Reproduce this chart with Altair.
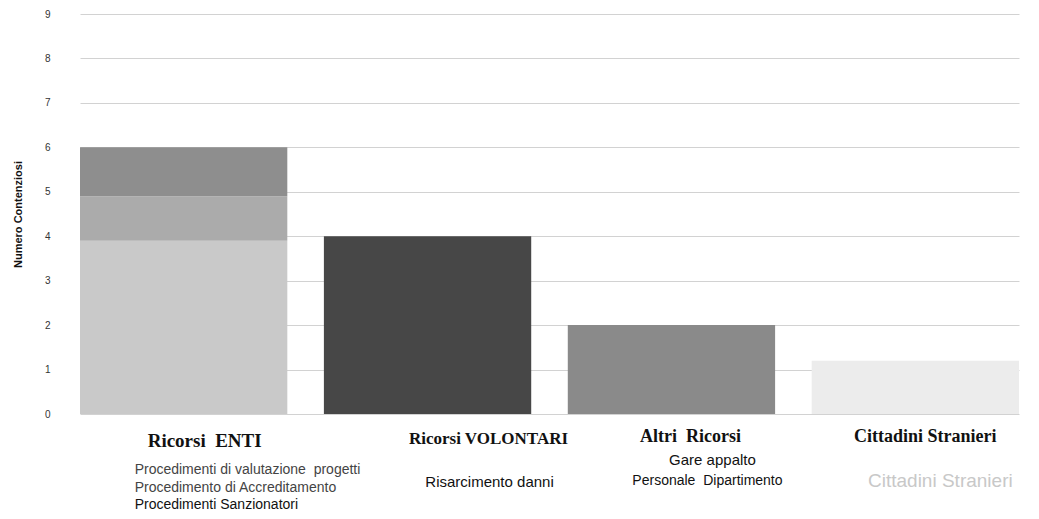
import altair as alt
import pandas as pd

# ---- data ----
categories = ["Ricorsi\u00a0 ENTI", "Ricorsi VOLONTARI", "Altri\u00a0 Ricorsi", "Cittadini Stranieri"]

segment_names = [
    "Procedimenti di valutazione  progetti",
    "Procedimento di Accreditamento",
    "Procedimenti Sanzionatori",
    "Risarcimento danni",
    "Gare appalto / Personale Dipartimento",
    "Cittadini Stranieri (seg)",
]
segment_category = [categories[0], categories[0], categories[0], categories[1], categories[2], categories[3]]
segment_values = [3.9, 1.0, 1.1, 4.0, 2.0, 1.2]
segment_order = [0, 1, 2, 0, 0, 0]
segment_colors = ["#c9c9c9", "#ababab", "#8e8e8e", "#474747", "#8a8a8a", "#ececec"]

y_ticks = [0, 1, 2, 3, 4, 5, 6, 7, 8, 9]

enti_lines = ["Procedimenti di valutazione\u00a0 progetti", "Procedimento di Accreditamento", "Procedimenti Sanzionatori"]
volontari_lines = ["Risarcimento danni"]
altri_lines = ["Gare appalto", "Personale\u00a0 Dipartimento"]
cittadini_lines = ["Cittadini Stranieri"]

df = pd.DataFrame({
    "categoria": segment_category,
    "segmento": segment_names,
    "valore": segment_values,
    "ordine": segment_order,
})

x_scale = alt.Scale(domain=categories, range=[20, 959], paddingInner=0.15, paddingOuter=0)
x_enc = alt.X("categoria:N", scale=x_scale, axis=None)

bars = alt.Chart(df).mark_bar(stroke=None).encode(
    x=x_enc,
    y=alt.Y(
        "valore:Q",
        stack="zero",
        scale=alt.Scale(domain=[0, 9], nice=False),
        axis=alt.Axis(
            values=y_ticks,
            title="Numero Contenziosi",
            titleFont="Liberation Sans",
            titleFontSize=11,
            titleFontWeight="bold",
            titleColor="#111",
            titleAngle=-90,
            titleX=-42,
            titleY=200,
            titleAlign="center",
            titleBaseline="middle",
            labelFont="Liberation Sans",
            labelFontSize=10,
            labelColor="#333",
            labelPadding=10,
            tickSize=0,
            domain=False,
            grid=True,
            gridColor="#d2d2d2",
            gridWidth=1,
        ),
    ),
    color=alt.Color("segmento:N", scale=alt.Scale(domain=segment_names, range=segment_colors), legend=None),
    order=alt.Order("ordine:Q"),
)


def text_layer(cat, txt, ypix, dx, size, font, weight="normal", color="#111", align="center"):
    d = pd.DataFrame({"categoria": [cat], "t": [txt]})
    return alt.Chart(d).mark_text(
        font=font, fontSize=size, fontWeight=weight, color=color,
        align=align, baseline="middle", dx=dx,
    ).encode(x=x_enc, y=alt.value(ypix - 14), text="t:N")


serif = "Liberation Serif"
sans = "Liberation Sans"

layers = [bars]
# main category labels
layers.append(text_layer(categories[0], categories[0], 441, 21, 19, serif, "bold"))
layers.append(text_layer(categories[1], categories[1], 439, 61, 17, serif, "bold"))
layers.append(text_layer(categories[2], categories[2], 437, 19, 18, serif, "bold"))
layers.append(text_layer(categories[3], categories[3], 437, 10, 18, serif, "bold"))
# sub labels
enti_colors = ["#444", "#444", "#111"]
for i, line in enumerate(enti_lines):
    layers.append(text_layer(categories[0], line, 470 + i * 17.5, -49, 14, sans, color=enti_colors[i], align="left"))
layers.append(text_layer(categories[1], volontari_lines[0], 482, 62, 15, sans))
layers.append(text_layer(categories[2], altri_lines[0], 460, 41, 15, sans))
layers.append(text_layer(categories[2], altri_lines[1], 481, 36, 14, sans))
layers.append(text_layer(categories[3], cittadini_lines[0], 481, 25, 19, sans, color="#c8c8c8"))

chart = alt.layer(*layers).properties(
    width=960,
    height=400,
    autosize=alt.AutoSizeParams(type="none"),
    padding={"left": 52, "top": 6, "right": 11, "bottom": 100},
).configure(background="white").configure_view(stroke=None, strokeWidth=0)

chart.save("out.html", embed_options={"renderer": "svg", "actions": False})
